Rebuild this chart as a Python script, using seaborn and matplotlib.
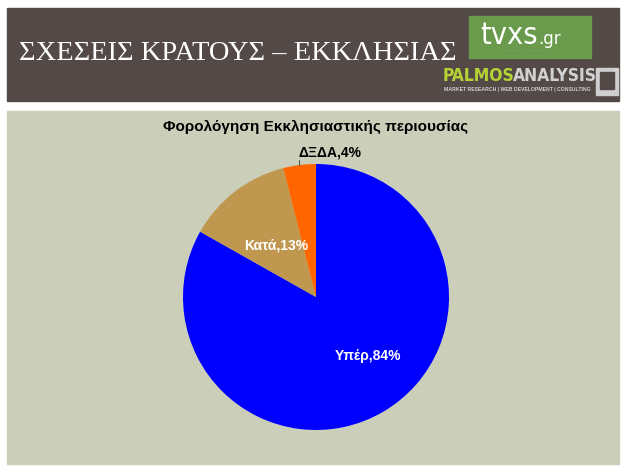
import numpy as np
import matplotlib
matplotlib.use("Agg")
import matplotlib.pyplot as plt
from matplotlib.patches import Rectangle
import seaborn as sns

# ---------- Data ----------
labels = ["Υπέρ", "Κατά", "ΔΞΔΑ"]
values = [84, 13, 4]
colors = ["#0000FF", "#C0974F", "#FF6600"]
label_colors = ["white", "white", "black"]
chart_title = "Φορολόγηση Εκκλησιαστικής περιουσίας"
slide_title = "ΣΧΕΣΕΙΣ ΚΡΑΤΟΥΣ – ΕΚΚΛΗΣΙΑΣ"

sns.set_style("white")
plt.rcParams["font.family"] = ["Liberation Sans", "DejaVu Sans"]

W, H = 633, 472
fig = plt.figure(figsize=(W / 100, H / 100), dpi=100)
fig.patch.set_facecolor("white")

def px(x, y):
    # pixel coords (top-left origin) -> figure fraction
    return x / W, 1 - y / H

def rect(x0, y0, x1, y1, color, z=-5):
    fx, fy = px(x0, y1)
    fig.patches.append(Rectangle((fx, fy), (x1 - x0) / W, (y1 - y0) / H,
                                 transform=fig.transFigure, color=color, zorder=z))

# ---------- header ----------
rect(7, 8, 619, 101, "#534a47")
fig.text(*px(19, 53), slide_title, family=["Liberation Serif", "DejaVu Serif"],
         fontsize=20.5, color="white", va="center", ha="left")

# tvxs logo
rect(469, 16, 591, 58, "#6a9a4b")
fig.text(*px(480, 44), "tvxs", color="white", fontsize=22, ha="left", va="baseline",
         family=["DejaVu Sans"], fontweight="light", fontstretch="condensed")
fig.text(*px(538, 44), ".gr", color="white", fontsize=12, ha="left", va="baseline",
         family=["DejaVu Sans"])
fig.text(*px(526, 51), "· · ·   · · · · ·   · · · · · · · ·", color="#d8e6cf", fontsize=3,
         ha="center", va="center")

# palmos analysis logo
fig.text(*px(443, 76), "PALMOS", color="#b6d335", fontsize=12.5, fontweight="bold",
         ha="left", va="center", family=["DejaVu Sans"], fontstretch="condensed")
fig.text(*px(513, 76), "ANALYSIS", color="#d2d2d2", fontsize=12.5, fontweight="bold",
         ha="left", va="center", family=["DejaVu Sans"], fontstretch="condensed")
fig.text(*px(444, 90), "MARKET RESEARCH | WEB DEVELOPMENT | CONSULTING", color="#cfcfcf",
         fontsize=3.7, fontweight="bold", ha="left", va="center")
rect(596, 68, 618, 95, "#cfcfcf")
rect(600, 72, 614, 89, "#534a47")

# ---------- chart panel ----------
rect(7, 111, 619, 464, "#cbcfba")
fig.text(*px(316, 127), chart_title, fontsize=11, fontweight="bold", ha="center",
         va="center", color="black")

cx, cy, r = 316, 297, 133
ax = fig.add_axes([(cx - r) / W, (H - cy - r) / H, 2 * r / W, 2 * r / H])
ax.set_zorder(2)
wedges, _ = ax.pie(values, colors=colors, startangle=90, counterclock=False,
                   wedgeprops=dict(linewidth=0))
ax.set_xlim(-1, 1)
ax.set_ylim(-1, 1)
ax.set_aspect("equal")
ax.axis("off")

# label positions: (distance, angle offset, horizontal alignment) per slice
placement = [(0.59, 11, "center"), (0.49, 0, "center"), (1.09, -4, "left")]
for w, lab, val, col, (d, off, ha) in zip(wedges, labels, values, label_colors, placement):
    mid = np.deg2rad((w.theta1 + w.theta2) / 2)
    ang = mid + np.deg2rad(off)
    tx, ty = d * np.cos(ang), d * np.sin(ang)
    if d > 1:
        tx = np.cos(mid) - 0.01
    ax.text(tx, ty, f"{lab},{val}%", color=col, fontsize=10, fontweight="bold",
            ha=ha, va="center", clip_on=False)
    if d > 1:
        ex, ey = np.cos(mid), np.sin(mid)
        ax.plot([ex, ex], [ey, ey + 0.035], color="#555555", lw=0.8, clip_on=False)

fig.savefig("out.png", dpi=100, facecolor=fig.get_facecolor())
